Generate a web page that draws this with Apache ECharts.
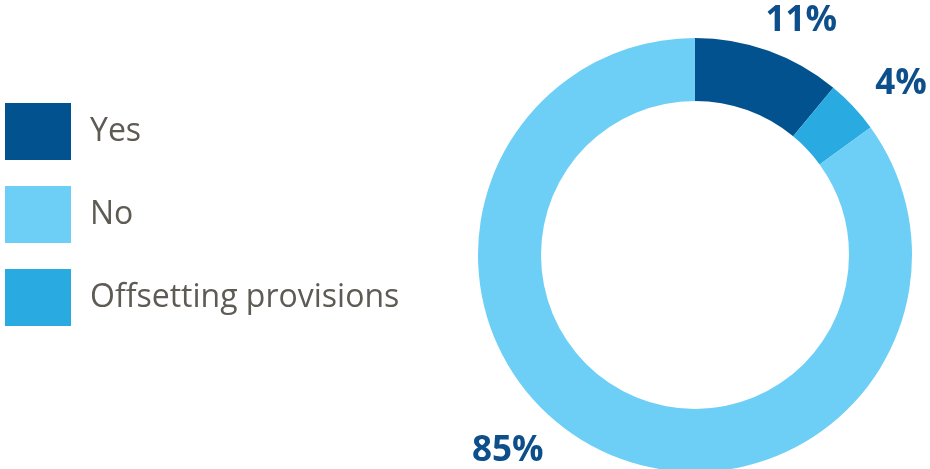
<!DOCTYPE html>
<html>
<head>
<meta charset="utf-8">
<script src="https://cdn.jsdelivr.net/npm/echarts@6/dist/echarts.min.js"></script>
<style>html,body{margin:0;padding:0;background:#fff;}#c{width:930px;height:469px;}</style>
</head>
<body>
<div id="c"></div>
<script>
var categories = ['Yes', 'Offsetting provisions', 'No'];
var values = [11, 4, 85];
var colors = ['#02528F', '#29ABE2', '#6DCFF6'];
var legendOrder = ['Yes', 'No', 'Offsetting provisions'];
var labelOffsets = [[-8, -30], [17, -22], [-48, 3]];

var chart = echarts.init(document.getElementById('c'));
chart.setOption({
  animation: false,
  legend: {
    data: legendOrder,
    orient: 'vertical',
    left: 0,
    top: 98,
    itemWidth: 66,
    itemHeight: 57,
    itemGap: 26,
    icon: 'rect',
    selectedMode: false,
    textStyle: {
      fontFamily: 'Open Sans',
      fontSize: 32,
      color: '#5E5A54',
      padding: [0, 0, 0, 14]
    }
  },
  series: [{
    type: 'pie',
    center: [695, 255],
    radius: [154, 217],
    startAngle: 90,
    clockwise: true,
    silent: true,
    emphasis: { disabled: true },
    label: {
      show: true,
      position: 'outside',
      formatter: '{c}%',
      fontFamily: 'Open Sans',
      fontWeight: 'bold',
      fontSize: 35,
      color: '#0D4F8B'
    },
    labelLine: { show: false, length: 0, length2: 0 },
    labelLayout: function (p) {
      var o = labelOffsets[p.dataIndex];
      return { dx: o[0], dy: o[1] };
    },
    data: categories.map(function (n, i) {
      return { name: n, value: values[i], itemStyle: { color: colors[i] } };
    })
  }]
});
</script>
</body>
</html>
